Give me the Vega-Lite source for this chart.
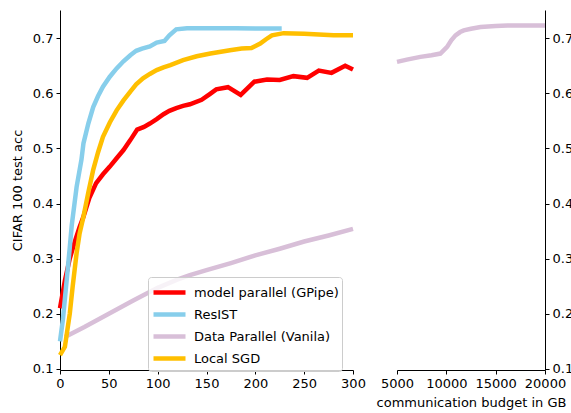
{
  "$schema": "https://vega.github.io/schema/vega-lite/v6.json",
  "padding": {"left": 11, "top": 10, "right": 0, "bottom": 5},
  "background": "white",
  "spacing": 10,
  "config": {
    "view": {"stroke": null},
    "font": "DejaVu Sans",
    "axis": {
      "grid": false,
      "labelFont": "DejaVu Sans",
      "labelFontSize": 13,
      "labelColor": "#000",
      "tickColor": "#000",
      "domainColor": "#000",
      "tickSize": 4,
      "labelPadding": 3,
      "labelFlush": false,
      "labelOverlap": false,
      "titleFont": "DejaVu Sans",
      "titleFontSize": 13,
      "titleFontWeight": "normal",
      "titleColor": "#000"
    }
  },
  "resolve": {"legend": {"color": "independent"}},
  "datasets": {
    "left": [
      {"method": "model parallel (GPipe)", "budget": 0, "acc": 0.21},
      {"method": "model parallel (GPipe)", "budget": 5, "acc": 0.26},
      {"method": "model parallel (GPipe)", "budget": 10, "acc": 0.3},
      {"method": "model parallel (GPipe)", "budget": 15, "acc": 0.33},
      {"method": "model parallel (GPipe)", "budget": 20, "acc": 0.357},
      {"method": "model parallel (GPipe)", "budget": 24, "acc": 0.376},
      {"method": "model parallel (GPipe)", "budget": 30, "acc": 0.41},
      {"method": "model parallel (GPipe)", "budget": 37, "acc": 0.437},
      {"method": "model parallel (GPipe)", "budget": 44, "acc": 0.453},
      {"method": "model parallel (GPipe)", "budget": 51, "acc": 0.467},
      {"method": "model parallel (GPipe)", "budget": 58, "acc": 0.482},
      {"method": "model parallel (GPipe)", "budget": 65, "acc": 0.497},
      {"method": "model parallel (GPipe)", "budget": 72, "acc": 0.515},
      {"method": "model parallel (GPipe)", "budget": 79, "acc": 0.534},
      {"method": "model parallel (GPipe)", "budget": 86, "acc": 0.539},
      {"method": "model parallel (GPipe)", "budget": 92, "acc": 0.545},
      {"method": "model parallel (GPipe)", "budget": 99, "acc": 0.553},
      {"method": "model parallel (GPipe)", "budget": 106, "acc": 0.562},
      {"method": "model parallel (GPipe)", "budget": 112, "acc": 0.568},
      {"method": "model parallel (GPipe)", "budget": 119, "acc": 0.573},
      {"method": "model parallel (GPipe)", "budget": 126, "acc": 0.577},
      {"method": "model parallel (GPipe)", "budget": 133, "acc": 0.58},
      {"method": "model parallel (GPipe)", "budget": 145, "acc": 0.588},
      {"method": "model parallel (GPipe)", "budget": 153, "acc": 0.598},
      {"method": "model parallel (GPipe)", "budget": 160, "acc": 0.607},
      {"method": "model parallel (GPipe)", "budget": 172, "acc": 0.611},
      {"method": "model parallel (GPipe)", "budget": 185, "acc": 0.597},
      {"method": "model parallel (GPipe)", "budget": 199, "acc": 0.621},
      {"method": "model parallel (GPipe)", "budget": 212, "acc": 0.625},
      {"method": "model parallel (GPipe)", "budget": 225, "acc": 0.624},
      {"method": "model parallel (GPipe)", "budget": 239, "acc": 0.631},
      {"method": "model parallel (GPipe)", "budget": 253, "acc": 0.628},
      {"method": "model parallel (GPipe)", "budget": 265, "acc": 0.641},
      {"method": "model parallel (GPipe)", "budget": 278, "acc": 0.637},
      {"method": "model parallel (GPipe)", "budget": 292, "acc": 0.65},
      {"method": "model parallel (GPipe)", "budget": 300, "acc": 0.643},
      {"method": "ResIST", "budget": 0, "acc": 0.15},
      {"method": "ResIST", "budget": 3, "acc": 0.19},
      {"method": "ResIST", "budget": 6.5, "acc": 0.255},
      {"method": "ResIST", "budget": 10, "acc": 0.32},
      {"method": "ResIST", "budget": 12, "acc": 0.36},
      {"method": "ResIST", "budget": 17, "acc": 0.43},
      {"method": "ResIST", "budget": 22, "acc": 0.48},
      {"method": "ResIST", "budget": 24, "acc": 0.509},
      {"method": "ResIST", "budget": 29, "acc": 0.545},
      {"method": "ResIST", "budget": 34, "acc": 0.575},
      {"method": "ResIST", "budget": 39, "acc": 0.595},
      {"method": "ResIST", "budget": 44, "acc": 0.612},
      {"method": "ResIST", "budget": 51, "acc": 0.63},
      {"method": "ResIST", "budget": 58, "acc": 0.645},
      {"method": "ResIST", "budget": 65, "acc": 0.658},
      {"method": "ResIST", "budget": 72, "acc": 0.669},
      {"method": "ResIST", "budget": 78, "acc": 0.677},
      {"method": "ResIST", "budget": 84, "acc": 0.681},
      {"method": "ResIST", "budget": 92, "acc": 0.685},
      {"method": "ResIST", "budget": 99, "acc": 0.692},
      {"method": "ResIST", "budget": 107, "acc": 0.695},
      {"method": "ResIST", "budget": 112, "acc": 0.705},
      {"method": "ResIST", "budget": 119, "acc": 0.716},
      {"method": "ResIST", "budget": 130, "acc": 0.718},
      {"method": "ResIST", "budget": 150, "acc": 0.718},
      {"method": "ResIST", "budget": 180, "acc": 0.718},
      {"method": "ResIST", "budget": 200, "acc": 0.7175},
      {"method": "ResIST", "budget": 227, "acc": 0.7175},
      {"method": "Data Parallel (Vanila)", "budget": 5, "acc": 0.158},
      {"method": "Data Parallel (Vanila)", "budget": 25, "acc": 0.176},
      {"method": "Data Parallel (Vanila)", "budget": 50, "acc": 0.2},
      {"method": "Data Parallel (Vanila)", "budget": 75, "acc": 0.224},
      {"method": "Data Parallel (Vanila)", "budget": 100, "acc": 0.247},
      {"method": "Data Parallel (Vanila)", "budget": 120, "acc": 0.262},
      {"method": "Data Parallel (Vanila)", "budget": 133, "acc": 0.27},
      {"method": "Data Parallel (Vanila)", "budget": 150, "acc": 0.279},
      {"method": "Data Parallel (Vanila)", "budget": 175, "acc": 0.292},
      {"method": "Data Parallel (Vanila)", "budget": 200, "acc": 0.306},
      {"method": "Data Parallel (Vanila)", "budget": 225, "acc": 0.318},
      {"method": "Data Parallel (Vanila)", "budget": 250, "acc": 0.331},
      {"method": "Data Parallel (Vanila)", "budget": 275, "acc": 0.342},
      {"method": "Data Parallel (Vanila)", "budget": 300, "acc": 0.354},
      {"method": "Local SGD", "budget": 0, "acc": 0.125},
      {"method": "Local SGD", "budget": 5, "acc": 0.14},
      {"method": "Local SGD", "budget": 10, "acc": 0.2},
      {"method": "Local SGD", "budget": 13, "acc": 0.25},
      {"method": "Local SGD", "budget": 17, "acc": 0.31},
      {"method": "Local SGD", "budget": 20, "acc": 0.345},
      {"method": "Local SGD", "budget": 24, "acc": 0.376},
      {"method": "Local SGD", "budget": 29, "acc": 0.42},
      {"method": "Local SGD", "budget": 34, "acc": 0.461},
      {"method": "Local SGD", "budget": 39, "acc": 0.493},
      {"method": "Local SGD", "budget": 44, "acc": 0.521},
      {"method": "Local SGD", "budget": 51, "acc": 0.547},
      {"method": "Local SGD", "budget": 58, "acc": 0.569},
      {"method": "Local SGD", "budget": 65, "acc": 0.587},
      {"method": "Local SGD", "budget": 72, "acc": 0.603},
      {"method": "Local SGD", "budget": 78, "acc": 0.616},
      {"method": "Local SGD", "budget": 85, "acc": 0.627},
      {"method": "Local SGD", "budget": 92, "acc": 0.635},
      {"method": "Local SGD", "budget": 99, "acc": 0.642},
      {"method": "Local SGD", "budget": 106, "acc": 0.647},
      {"method": "Local SGD", "budget": 113, "acc": 0.651},
      {"method": "Local SGD", "budget": 126, "acc": 0.66},
      {"method": "Local SGD", "budget": 140, "acc": 0.667},
      {"method": "Local SGD", "budget": 154, "acc": 0.672},
      {"method": "Local SGD", "budget": 174, "acc": 0.678},
      {"method": "Local SGD", "budget": 186, "acc": 0.681},
      {"method": "Local SGD", "budget": 196, "acc": 0.682},
      {"method": "Local SGD", "budget": 205, "acc": 0.69},
      {"method": "Local SGD", "budget": 211, "acc": 0.698},
      {"method": "Local SGD", "budget": 217, "acc": 0.705},
      {"method": "Local SGD", "budget": 229, "acc": 0.709},
      {"method": "Local SGD", "budget": 250, "acc": 0.708},
      {"method": "Local SGD", "budget": 270, "acc": 0.706},
      {"method": "Local SGD", "budget": 280, "acc": 0.705},
      {"method": "Local SGD", "budget": 300, "acc": 0.705}
    ],
    "right": [
      {"method": "Data Parallel (Vanila)", "budget": 5000, "acc": 0.657},
      {"method": "Data Parallel (Vanila)", "budget": 6000, "acc": 0.661},
      {"method": "Data Parallel (Vanila)", "budget": 7370, "acc": 0.666},
      {"method": "Data Parallel (Vanila)", "budget": 8500, "acc": 0.669},
      {"method": "Data Parallel (Vanila)", "budget": 9400, "acc": 0.672},
      {"method": "Data Parallel (Vanila)", "budget": 10080, "acc": 0.684},
      {"method": "Data Parallel (Vanila)", "budget": 10500, "acc": 0.696},
      {"method": "Data Parallel (Vanila)", "budget": 10930, "acc": 0.705},
      {"method": "Data Parallel (Vanila)", "budget": 11400, "acc": 0.711},
      {"method": "Data Parallel (Vanila)", "budget": 11770, "acc": 0.714},
      {"method": "Data Parallel (Vanila)", "budget": 12500, "acc": 0.717},
      {"method": "Data Parallel (Vanila)", "budget": 13470, "acc": 0.72},
      {"method": "Data Parallel (Vanila)", "budget": 15000, "acc": 0.722},
      {"method": "Data Parallel (Vanila)", "budget": 16190, "acc": 0.723},
      {"method": "Data Parallel (Vanila)", "budget": 20000, "acc": 0.723}
    ]
  },
  "hconcat": [
    {
      "width": 293,
      "height": 360,
      "layer": [
        {
          "data": {"name": "left"},
          "mark": {"type": "line", "strokeWidth": 4.5, "strokeCap": "butt"},
          "encoding": {
            "x": {"field": "budget", "type": "quantitative",
                  "scale": {"domain": [0, 300], "nice": false, "zero": false},
                  "axis": {"values": [0, 50, 100, 150, 200, 250, 300], "title": null}},
            "y": {"field": "acc", "type": "quantitative",
                  "scale": {"domain": [0.098, 0.751], "nice": false, "zero": false},
                  "axis": {"values": [0.1, 0.2, 0.3, 0.4, 0.5, 0.6, 0.7], "format": ".1f", "title": "CIFAR 100 test acc", "titlePadding": 8}},
            "color": {"field": "method", "type": "nominal",
                      "scale": {"domain": ["model parallel (GPipe)", "ResIST", "Data Parallel (Vanila)", "Local SGD"],
                                "range": ["#ff0000", "#87ceeb", "#d8bfd8", "#ffbf00"]},
                      "legend": {"orient": "none", "legendX": 88, "legendY": 267, "title": null,
                                 "symbolType": "M-1,0L2.2,0", "symbolStrokeWidth": 4.5, "symbolSize": 400,
                                 "labelFontSize": 13, "labelFont": "DejaVu Sans", "labelColor": "#000",
                                 "strokeColor": "#cccccc", "fillColor": "rgba(255,255,255,0.8)",
                                 "cornerRadius": 3, "padding": 3, "labelOffset": 18, "rowPadding": 0}},
            "order": {"field": "budget", "type": "quantitative"}
          }
        },
        {
          "mark": {"type": "rule", "color": "#000", "strokeWidth": 1},
          "encoding": {"y": {"datum": 0.751}}
        },
        {
          "mark": {"type": "text", "text": "/", "fontSize": 15, "fontWeight": "bold", "color": "#000"},
          "encoding": {"x": {"datum": 300}, "y": {"datum": 0.751}}
        },
        {
          "mark": {"type": "text", "text": "/", "fontSize": 15, "fontWeight": "bold", "color": "#000"},
          "encoding": {"x": {"datum": 300}, "y": {"datum": 0.098}}
        }
      ]
    },
    {
      "width": 148,
      "height": 360,
      "layer": [
        {
          "data": {"name": "right"},
          "mark": {"type": "line", "strokeWidth": 4.5, "color": "#d8bfd8"},
          "encoding": {
            "x": {"field": "budget", "type": "quantitative",
                  "scale": {"domain": [5000, 20000], "nice": false, "zero": false},
                  "axis": {"values": [5000, 10000, 15000, 20000], "format": "d", "title": "communication budget in GB", "titlePadding": 6}},
            "y": {"field": "acc", "type": "quantitative",
                  "scale": {"domain": [0.098, 0.751], "nice": false, "zero": false},
                  "axis": {"orient": "right", "values": [0.1, 0.2, 0.3, 0.4, 0.5, 0.6, 0.7], "format": ".1f", "title": null}}
          }
        },
        {
          "mark": {"type": "rule", "color": "#000", "strokeWidth": 1},
          "encoding": {"y": {"datum": 0.751}}
        },
        {
          "mark": {"type": "text", "text": "/", "fontSize": 15, "fontWeight": "bold", "color": "#000"},
          "encoding": {"x": {"datum": 5000}, "y": {"datum": 0.751}}
        },
        {
          "mark": {"type": "text", "text": "/", "fontSize": 15, "fontWeight": "bold", "color": "#000"},
          "encoding": {"x": {"datum": 5000}, "y": {"datum": 0.098}}
        }
      ]
    }
  ]
}
